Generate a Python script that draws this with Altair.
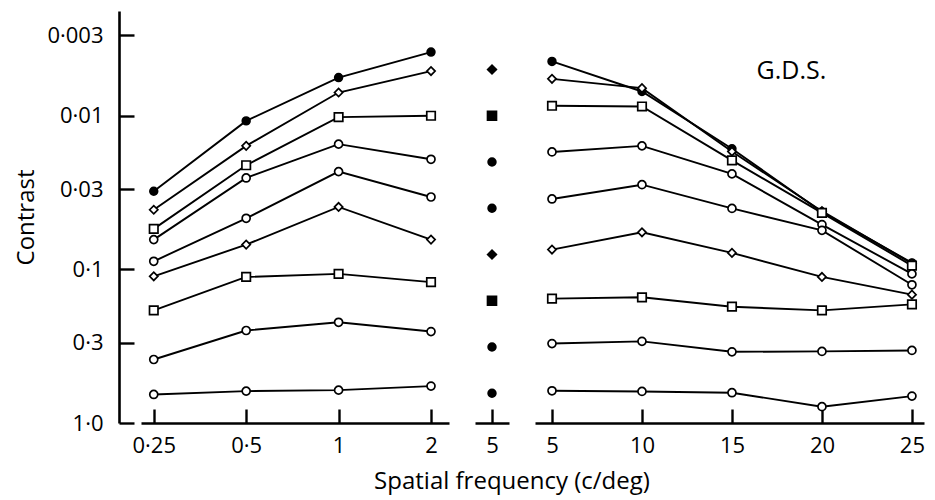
import altair as alt
import pandas as pd

# ---------------- data ----------------
freq_low = [0.25, 0.5, 1, 2]
freq_low_labels = ["0·25", "0·5", "1", "2"]
freq_high = [5, 10, 15, 20, 25]
freq_mid = 5

y_ticks = [0.003, 0.01, 0.03, 0.1, 0.3, 1.0]
y_tick_labels = ["0·003", "0·01", "0·03", "0·1", "0·3", "1·0"]

# marker of each curve, top to bottom
markers = ["filled_circle", "open_diamond", "open_square", "open_circle", "open_circle",
           "open_diamond", "open_square", "open_circle", "open_circle"]

contrast_low = [
    [0.0310, 0.0108, 0.00564, 0.00385],
    [0.0409, 0.0157, 0.00706, 0.00512],
    [0.0545, 0.0210, 0.0102, 0.0100],
    [0.0640, 0.0254, 0.0153, 0.0192],
    [0.0886, 0.0465, 0.0231, 0.0338],
    [0.111, 0.0690, 0.0392, 0.0640],
    [0.185, 0.112, 0.107, 0.121],
    [0.386, 0.250, 0.221, 0.254],
    [0.652, 0.620, 0.611, 0.575],
]
contrast_high = [
    [0.00443, 0.00695, 0.0164, 0.0423, 0.0907],
    [0.00575, 0.00661, 0.0171, 0.0418, 0.0916],
    [0.00861, 0.00870, 0.0195, 0.0429, 0.0945],
    [0.0172, 0.0157, 0.0239, 0.0511, 0.107],
    [0.0348, 0.0281, 0.0401, 0.0557, 0.126],
    [0.0743, 0.0574, 0.0781, 0.112, 0.146],
    [0.155, 0.152, 0.175, 0.185, 0.169],
    [0.304, 0.294, 0.344, 0.342, 0.337],
    [0.617, 0.623, 0.635, 0.783, 0.668],
]
mid_markers = ["filled_diamond", "filled_square", "filled_circle", "filled_circle",
               "filled_diamond", "filled_square", "filled_circle", "filled_circle"]
mid_contrast = [0.005, 0.01, 0.02, 0.04, 0.08, 0.16, 0.32, 0.64]

annotation = "G.D.S."
annotation_freq = 18.3
annotation_contrast = 0.0051

# ---------------- tables ----------------
def build(freqs, table):
    rows = []
    for i, (m, vals) in enumerate(zip(markers, table)):
        for f, v in zip(freqs, vals):
            rows.append({"series": i, "marker": m, "freq": f, "contrast": v})
    return pd.DataFrame(rows)

df_low = build(freq_low, contrast_low)
df_high = build(freq_high, contrast_high)
df_mid = pd.DataFrame({"series": list(range(1, 9)), "marker": mid_markers,
                       "freq": [freq_mid] * 8, "contrast": mid_contrast})
df_ann = pd.DataFrame({"freq": [annotation_freq], "contrast": [annotation_contrast],
                       "text": [annotation]})

FONT = "Open Sans"
FS = 22
TFS = 24
H = 412

marker_dom = ["filled_circle", "open_circle", "open_diamond", "open_square",
              "filled_diamond", "filled_square"]
shape_enc = alt.Shape("marker:N", legend=None, scale=alt.Scale(
    domain=marker_dom, range=["circle", "circle", "diamond", "square", "diamond", "square"]))
fill_enc = alt.Fill("marker:N", legend=None, scale=alt.Scale(
    domain=marker_dom, range=["black", "white", "white", "white", "black", "black"]))
size_enc = alt.Size("marker:N", legend=None, scale=alt.Scale(
    domain=marker_dom, range=[60, 80, 115, 72, 110, 80]))

y_scale = alt.Scale(type="log", domain=[0.00208, 1.0], reverse=True, nice=False)

def label_expr(vals, labels):
    cond = ""
    for v, l in zip(vals, labels):
        cond += "abs(datum.value - %r) < 1e-9 ? '%s' : " % (v, l)
    return cond + "datum.label"

axis_common = dict(domainWidth=2.6, domainColor="black", tickColor="black", tickWidth=2.4,
                   labelFont=FONT, labelFontSize=FS, labelColor="black", grid=False)

y_axis = alt.Axis(values=y_ticks, labelExpr=label_expr(y_ticks, y_tick_labels),
                  title="Contrast", offset=22, tickSize={"expr": "-15"}, labelPadding=31,
                  titleFont=FONT, titleFontSize=TFS, titleFontWeight="normal",
                  titleColor="black", titlePadding=8, **axis_common)

def x_axis(vals, labels=None):
    kw = dict(values=vals, title=None, tickSize={"expr": "-14"}, labelPadding=26, **axis_common)
    if labels is not None:
        kw["labelExpr"] = label_expr(vals, labels)
    return alt.Axis(**kw)

def panel(df, xscale, xaxis, width, yaxis, lines=True, extra=None):
    x = alt.X("freq:Q", scale=xscale, axis=xaxis)
    y = alt.Y("contrast:Q", scale=y_scale, axis=yaxis)
    layers = []
    base = alt.Chart(df)
    if lines:
        layers.append(base.mark_line(color="black", strokeWidth=1.9).encode(
            x=x, y=y, detail="series:N", order="freq:Q"))
    layers.append(base.mark_point(filled=True, stroke="black", strokeWidth=1.7, opacity=1).encode(
        x=x, y=y, shape=shape_enc, fill=fill_enc, size=size_enc))
    if extra is not None:
        layers.append(extra)
    return alt.layer(*layers).properties(width=width, height=H)

left = panel(df_low, alt.Scale(type="log", base=2, domain=[0.2272, 2.289], nice=False),
             x_axis(freq_low, freq_low_labels), 308, y_axis)
mid = panel(df_mid, alt.Scale(domain=[4, 6], nice=False, zero=False),
            x_axis([freq_mid]), 34, None, lines=False)
ann = alt.Chart(df_ann).mark_text(font=FONT, fontSize=25, color="black", align="center",
                                  baseline="middle").encode(
    x=alt.X("freq:Q"), y=alt.Y("contrast:Q"), text="text:N")
right = panel(df_high, alt.Scale(domain=[4.056, 25.67], nice=False, zero=False),
              x_axis(freq_high), 389, None, extra=ann)

chart = alt.hconcat(left, mid, right, spacing=26).properties(
    title=alt.TitleParams("Spatial frequency (c/deg)", orient="bottom", anchor="middle",
                          frame="group", dx=371, offset=14, font=FONT, fontSize=TFS,
                          fontWeight="normal", color="black"),
    padding={"left": 6, "top": 3, "right": 0, "bottom": 3},
).configure(background="white").configure_view(stroke=None)

chart.save("out.html", embed_options={"renderer": "svg", "actions": False})
